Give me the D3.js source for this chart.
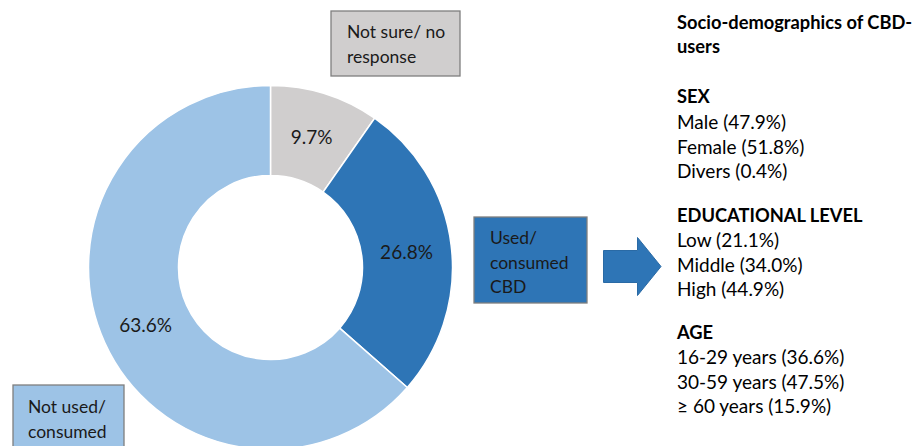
<!DOCTYPE html>
<html><head><meta charset="utf-8">
<script src="https://cdn.jsdelivr.net/npm/d3@7"></script>
<style>html,body{margin:0;padding:0;background:#fff;overflow:hidden}</style>
</head><body>
<svg id="chart" width="921" height="446"></svg>
<script>
const categories = ["Not sure/ no response", "Used/ consumed CBD", "Not used/ consumed"];
const values = [9.7, 26.8, 63.6];
const labels = ["9.7%", "26.8%", "63.6%"];
const colors = ["#d0cece", "#2e75b6", "#9dc3e6"];

const boxLines = [["Not sure/ no", "response"], ["Used/", "consumed", "CBD"], ["Not used/", "consumed"]];

const title = ["Socio-demographics of CBD-", "users"];
const sexHeader = "SEX";
const sexItems = ["Male (47.9%)", "Female (51.8%)", "Divers (0.4%)"];
const eduHeader = "EDUCATIONAL LEVEL";
const eduItems = ["Low (21.1%)", "Middle (34.0%)", "High (44.9%)"];
const ageHeader = "AGE";
const ageItems = ["16-29 years (36.6%)", "30-59 years (47.5%)", "\u2265 60 years (15.9%)"];

const FONT = "Lato, 'Noto Sans', sans-serif";
const svg = d3.select("#chart");

const cx = 270.5, cy = 267.5, R = 182, r = 92;
const pie = d3.pie().sort(null).value(d => d)(values);
const arc = d3.arc().innerRadius(r).outerRadius(R);
const g = svg.append("g").attr("transform", `translate(${cx},${cy})`);
g.selectAll("path").data(pie).join("path")
  .attr("d", arc).attr("fill", (d, i) => colors[i])
  .attr("stroke", "#fff").attr("stroke-width", 1.5);
g.selectAll("text").data(pie).join("text")
  .attr("x", d => arc.centroid(d)[0]).attr("y", d => arc.centroid(d)[1])
  .attr("text-anchor", "middle").attr("dominant-baseline", "central")
  .attr("font-family", FONT).attr("font-size", 19).attr("fill", "#1a1a1a")
  .text((d, i) => labels[i]);

// category boxes
const boxes = [
  {x: 331, y: 11, w: 129, h: 65, tx: 347, ty: 38},
  {x: 474, y: 217, w: 113, h: 86, tx: 490, ty: 244},
  {x: 13, y: 385, w: 111, h: 70, tx: 28, ty: 413}
];
boxes.forEach((b, i) => {
  svg.append("rect").attr("x", b.x).attr("y", b.y).attr("width", b.w).attr("height", b.h)
    .attr("fill", colors[i]).attr("stroke", "#7f7f7f").attr("stroke-width", 1.3);
  const t = svg.append("text").attr("font-family", FONT).attr("font-size", 17.5).attr("fill", "#1a1a1a");
  boxLines[i].forEach((ln, j) => {
    t.append("tspan").attr("x", b.tx).attr("y", b.ty + j * 24.5).text(ln);
  });
});

// arrow
const ax0 = 603.5, ax1 = 637.5, ax2 = 661, ay = 266.5;
svg.append("path")
  .attr("d", `M${ax0},${ay-16} L${ax1},${ay-16} L${ax1},${ay-29} L${ax2},${ay} L${ax1},${ay+29} L${ax1},${ay+16} L${ax0},${ay+16} Z`)
  .attr("fill", colors[1]).attr("stroke", "#2a6aa5").attr("stroke-width", 1);

// right text block
const tx = 677;
const rt = svg.append("g").attr("font-family", FONT).attr("fill", "#000");
function line(txt, y, bold) {
  rt.append("text").attr("x", tx).attr("y", y)
    .attr("font-size", bold ? 18.3 : 19)
    .attr("font-weight", bold ? "bold" : "normal").text(txt);
}
line(title[0], 29, true);
line(title[1], 53, true);
line(sexHeader, 103, true);
sexItems.forEach((s, i) => line(s, 129 + i * 24.7, false));
line(eduHeader, 222, true);
eduItems.forEach((s, i) => line(s, 247 + i * 24.7, false));
line(ageHeader, 339, true);
ageItems.forEach((s, i) => line(s, 364 + i * 24.7, false));
</script>
</body></html>
